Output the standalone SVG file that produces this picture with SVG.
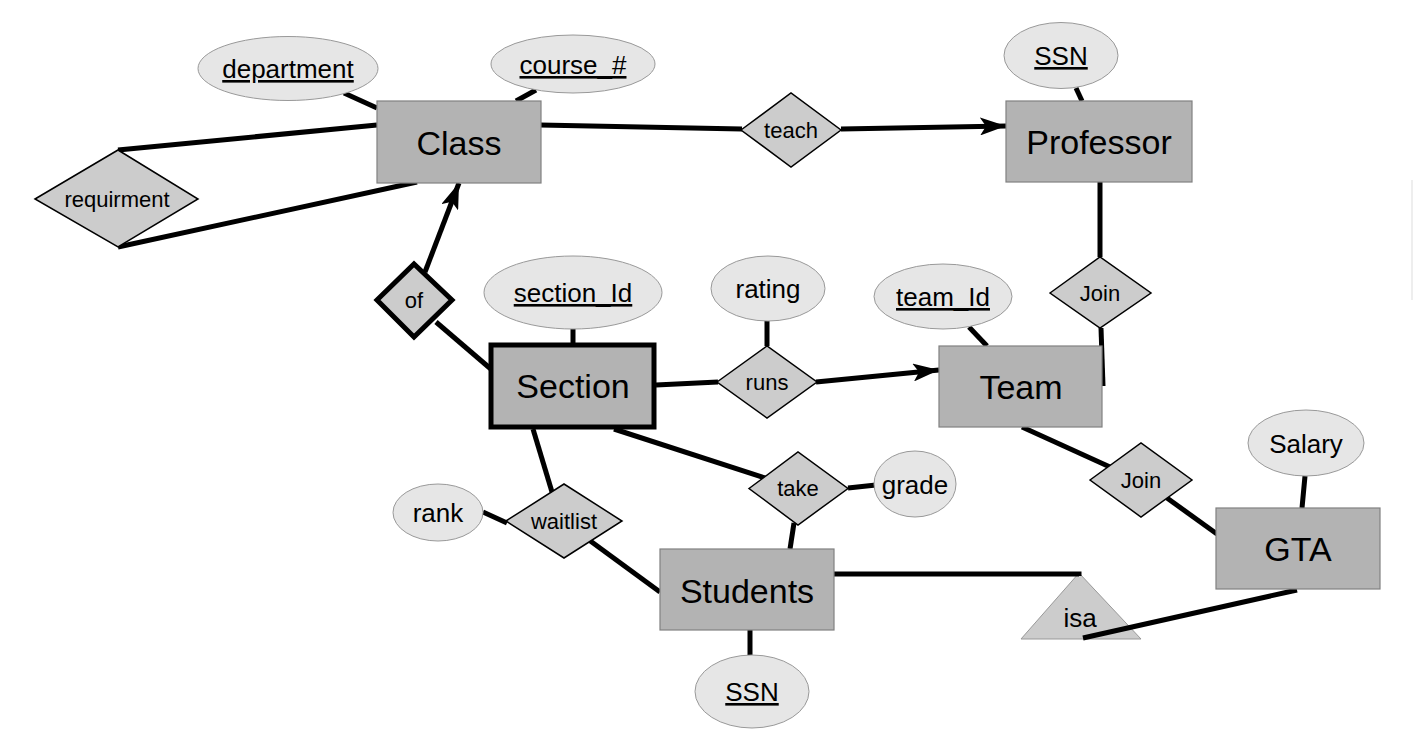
<svg xmlns="http://www.w3.org/2000/svg" width="1414" height="748" viewBox="0 0 1414 748">
<style>
.ent{fill:#b3b3b3;stroke:#808080;stroke-width:1.2}
.weak{fill:#b3b3b3;stroke:#000;stroke-width:5}
.att{fill:#e6e6e6;stroke:#999;stroke-width:1}
.rel{fill:#cccccc;stroke:#000;stroke-width:1.5}
.wrel{fill:#cccccc;stroke:#000;stroke-width:5;stroke-linejoin:miter}
.isa{fill:#cccccc;stroke:#999;stroke-width:1}
.c{stroke:#000;stroke-width:5;fill:none;stroke-linecap:butt}
.t{font-family:"Liberation Sans",Arial,sans-serif;fill:#000;text-anchor:middle}
.te{font-size:34px}
.ta{font-size:26px}
.tr{font-size:22px}
.u{text-decoration:underline}
</style>
<defs>
<marker id="arr" viewBox="0 0 26 18" refX="26" refY="9" markerWidth="26" markerHeight="18" markerUnits="userSpaceOnUse" orient="auto">
<path d="M0,0 L26,9 L0,18 L6,9 z" fill="#000"/>
</marker>
</defs>
<rect width="1414" height="748" fill="#fff"/>
<line x1="1412" y1="180" x2="1412" y2="300" stroke="#eeeeee" stroke-width="2"/>
<g id="isa"><polygon class="isa" points="1079,573 1141,639 1021,639"/><text class="t ta" x="1080" y="627">isa</text></g>
<g id="connectors">
<line class="c" x1="344" y1="93" x2="377" y2="108"/>
<line class="c" x1="536" y1="90" x2="516" y2="101"/>
<line class="c" x1="118" y1="150" x2="377" y2="125"/>
<line class="c" x1="118" y1="247" x2="417" y2="182"/>
<line class="c" x1="540" y1="125" x2="742" y2="129"/>
<line class="c" x1="841" y1="129" x2="1006" y2="126" marker-end="url(#arr)"/>
<line class="c" x1="1076" y1="88" x2="1082" y2="101"/>
<line class="c" stroke-width="4" x1="1100" y1="182" x2="1100" y2="257"/>
<line class="c" stroke-width="4" x1="1101" y1="328" x2="1103" y2="386"/>
<line class="c" x1="425" y1="272" x2="459" y2="183" marker-end="url(#arr)"/>
<line class="c" x1="436" y1="322" x2="492" y2="370"/>
<line class="c" x1="573" y1="329" x2="573" y2="343"/>
<line class="c" x1="656" y1="385" x2="718" y2="382"/>
<line class="c" x1="767" y1="321" x2="767" y2="346"/>
<line class="c" x1="816" y1="382" x2="939" y2="370" marker-end="url(#arr)"/>
<line class="c" x1="969" y1="327" x2="987" y2="346"/>
<line class="c" x1="614" y1="429" x2="765" y2="478"/>
<line class="c" x1="848" y1="488" x2="876" y2="485"/>
<line class="c" x1="794" y1="523" x2="790" y2="549"/>
<line class="c" stroke-width="4" x1="533" y1="429" x2="552" y2="492"/>
<line class="c" x1="483" y1="512" x2="507" y2="523"/>
<line class="c" x1="589" y1="540" x2="660" y2="592"/>
<line class="c" x1="750" y1="630" x2="750" y2="655"/>
<polyline class="c" points="833,574 1079,574 1079,576"/>
<line class="c" stroke-width="6" x1="1297" y1="590" x2="1083" y2="638"/>
<line class="c" x1="1305" y1="476" x2="1302" y2="508"/>
<line class="c" x1="1022" y1="427" x2="1110" y2="467"/>
<line class="c" x1="1167" y1="498" x2="1217" y2="534"/>
</g>
<g id="class"><rect class="ent" x="377" y="101" width="164" height="82"/><text class="t te" x="459" y="155">Class</text></g>
<g id="department"><ellipse class="att" cx="288" cy="68.5" rx="90" ry="32"/><text class="t ta u" x="288" y="78">department</text></g>
<g id="course"><ellipse class="att" cx="573" cy="64" rx="82" ry="29"/><text class="t ta u" x="573" y="74">course_#</text></g>
<g id="requirment"><polygon class="rel" points="35,199 118,150 198,199 118,247"/><text class="t tr" x="117" y="207">requirment</text></g>
<g id="teach"><polygon class="rel" points="741,130 791,93 841,130 791,167"/><text class="t tr" x="791" y="138">teach</text></g>
<g id="professor"><rect class="ent" x="1006" y="101" width="186" height="81"/><text class="t te" x="1099" y="154">Professor</text></g>
<g id="ssn1"><ellipse class="att" cx="1061" cy="55.5" rx="57" ry="33"/><text class="t ta u" x="1061" y="65">SSN</text></g>
<g id="join1"><polygon class="rel" points="1050,293 1100,257 1151,293 1100,328"/><text class="t tr" x="1100" y="301">Join</text></g>
<g id="of"><polygon class="wrel" points="377,300 414,264 452,300 414,337"/><text class="t tr" x="414" y="308">of</text></g>
<g id="section"><rect class="weak" x="491" y="345" width="163" height="82"/><text class="t te" x="573" y="398">Section</text></g>
<g id="section_id"><ellipse class="att" cx="573" cy="292.5" rx="89" ry="36.5"/><text class="t ta u" x="573" y="302">section_Id</text></g>
<g id="rating"><ellipse class="att" cx="768" cy="288.5" rx="57" ry="32.5"/><text class="t ta" x="768" y="298">rating</text></g>
<g id="runs"><polygon class="rel" points="717,382 767,346 817,382 767,418"/><text class="t tr" x="767" y="390">runs</text></g>
<g id="team"><rect class="ent" x="939" y="346" width="163" height="81"/><text class="t te" x="1021" y="399">Team</text></g>
<g id="team_id"><ellipse class="att" cx="943" cy="296.5" rx="69" ry="32.5"/><text class="t ta u" x="943" y="306">team_Id</text></g>
<g id="take"><polygon class="rel" points="749,488.5 798,452 848,488.5 798,525"/><text class="t tr" x="798" y="496">take</text></g>
<g id="grade"><ellipse class="att" cx="915" cy="484" rx="41" ry="33"/><text class="t ta" x="915" y="494">grade</text></g>
<g id="waitlist"><polygon class="rel" points="506,521 564,484 622,521 564,558"/><text class="t tr" x="564" y="529">waitlist</text></g>
<g id="rank"><ellipse class="att" cx="438" cy="512.5" rx="45" ry="28.5"/><text class="t ta" x="438" y="522">rank</text></g>
<g id="students"><rect class="ent" x="660" y="549" width="174" height="81"/><text class="t te" x="747" y="603">Students</text></g>
<g id="ssn2"><ellipse class="att" cx="752" cy="691.5" rx="57" ry="36.5"/><text class="t ta u" x="752" y="701">SSN</text></g>
<g id="gta"><rect class="ent" x="1216" y="508" width="164" height="81"/><text class="t te" x="1298" y="561">GTA</text></g>
<g id="salary"><ellipse class="att" cx="1306" cy="443" rx="58" ry="33"/><text class="t ta" x="1306" y="453">Salary</text></g>
<g id="join2"><polygon class="rel" points="1090,480 1141,443 1192,480 1141,517"/><text class="t tr" x="1141" y="488">Join</text></g>
</svg>
